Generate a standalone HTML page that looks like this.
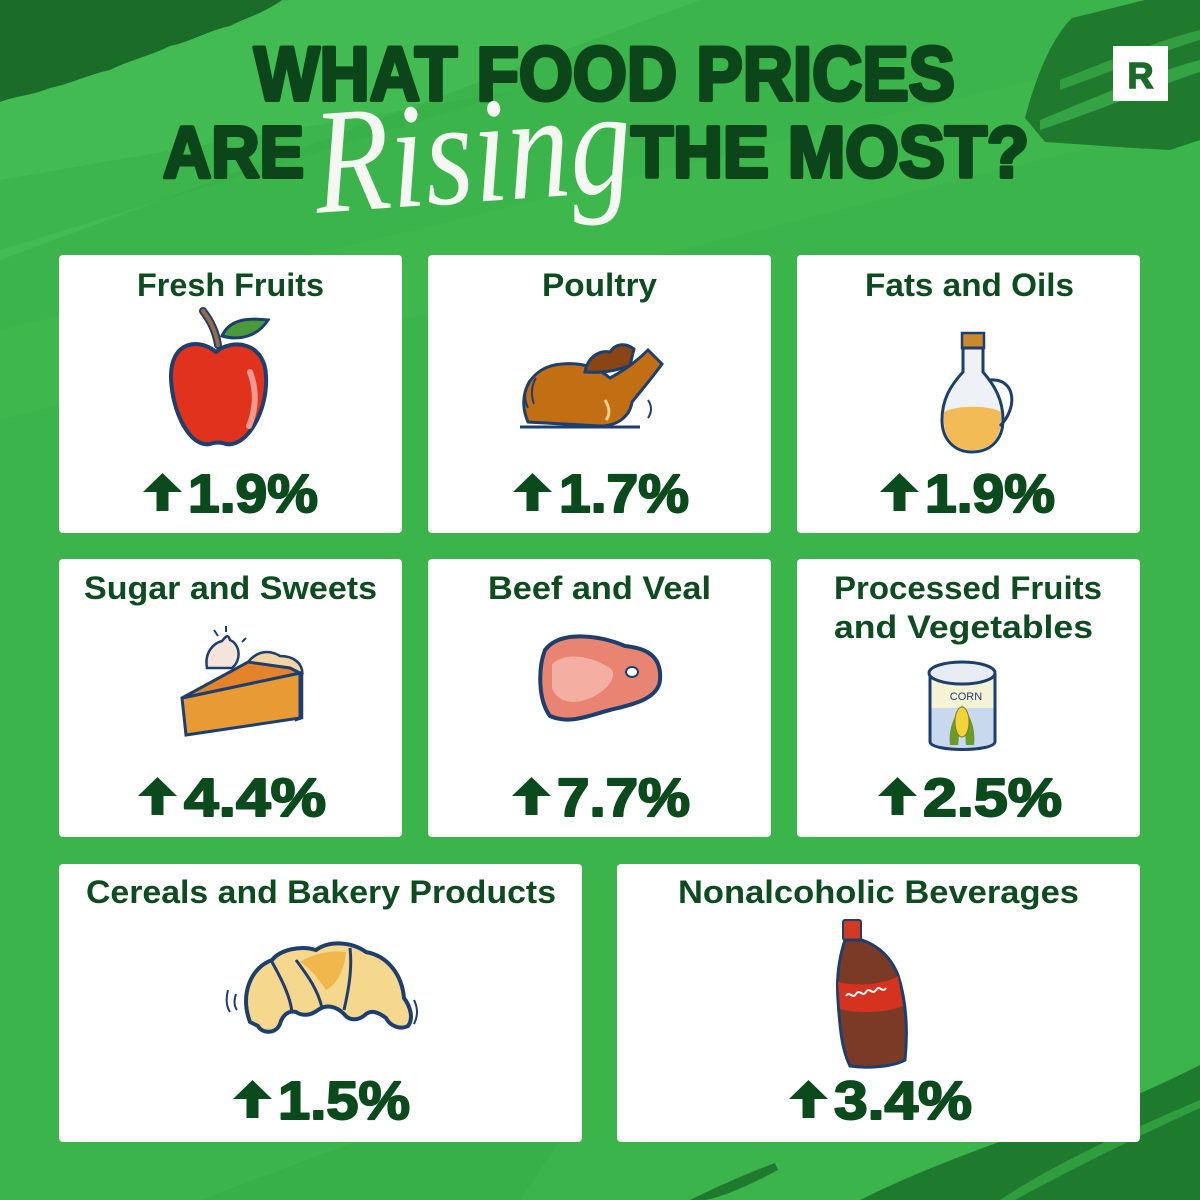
<!DOCTYPE html>
<html><head><meta charset="utf-8"><style>
html,body{margin:0;padding:0;width:1200px;height:1200px;overflow:hidden;background:#3bb54b;}
svg{display:block}
</style></head><body>
<svg width="1200" height="1200" viewBox="0 0 1200 1200" xmlns="http://www.w3.org/2000/svg">
<!-- background -->
<rect width="1200" height="1200" fill="#3bb54b"/>
<polygon points="0,100 290,0 700,0 0,260" fill="#47bd57" opacity="0.7"/>
<polygon points="0,330 1200,40 1200,120 0,420" fill="#44bc54" opacity="0.35"/>
<polygon points="0,180 520,90 0,250" fill="#33ad44" opacity="0.4"/>
<polygon points="200,1200 360,1140 560,1140 520,1200" fill="#33ad44" opacity="0.5"/>
<!-- dark brush strokes -->
<path d="M0,0 L282,0 C262,14 250,16 230,26 C210,30 190,42 170,46 C150,56 130,60 110,70 C90,74 70,84 50,88 C30,96 15,96 0,102 Z" fill="#1b6c29"/>
<path d="M1072,18 L1145,0 L1200,0 L1200,140 L1170,150 C1130,148 1090,145 1045,142 L1025,118 C1035,80 1050,40 1072,18 Z" fill="#1f7a2e"/>
<path d="M1040,120 C1100,95 1160,70 1200,60 L1200,72 C1160,85 1100,110 1040,130 Z" fill="#3aae48" opacity="0.8"/>
<path d="M1060,80 C1110,60 1160,40 1200,30 L1200,40 C1160,52 1110,72 1060,90 Z" fill="#3aae48" opacity="0.7"/>
<path d="M860,1200 C920,1170 1000,1140 1080,1115 C1130,1100 1170,1080 1200,1065 L1200,1200 Z" fill="#1e7a2d"/>
<path d="M690,1200 C710,1190 750,1172 775,1163 L778,1170 C750,1185 720,1198 705,1200 Z" fill="#1e7a2d"/>
<path d="M1000,1200 C1060,1160 1130,1130 1200,1100 L1200,1108 C1130,1140 1070,1170 1015,1200 Z" fill="#35a744" opacity="0.8"/>

<!-- title -->
<g font-family="Liberation Sans, sans-serif" font-weight="bold" fill="#0b4519" stroke="#0b4519" stroke-width="4" stroke-linejoin="round">
<text x="254" y="100" font-size="76" textLength="701" lengthAdjust="spacingAndGlyphs">WHAT FOOD PRICES</text>
<text x="163" y="177" font-size="72" textLength="141" lengthAdjust="spacingAndGlyphs">ARE</text>
<text x="631" y="177" font-size="72" textLength="398" lengthAdjust="spacingAndGlyphs">THE MOST?</text>
</g>
<text x="314" y="202" font-family="Liberation Serif, serif" font-style="italic" font-size="150" fill="#f4f7f2" textLength="318" lengthAdjust="spacingAndGlyphs" transform="rotate(-4 470 160)">Rising</text>

<!-- R logo -->
<rect x="1113" y="46" width="55" height="55" fill="#ffffff"/>
<text x="1140.5" y="88" text-anchor="middle" font-family="Liberation Sans, sans-serif" font-weight="bold" font-size="36" fill="#1c6b2a" stroke="#1c6b2a" stroke-width="1.5">R</text>

<!-- cards -->
<g fill="#ffffff">
<rect x="59" y="255" width="343" height="278" rx="4"/>
<rect x="428" y="255" width="343" height="278" rx="4"/>
<rect x="797" y="255" width="343" height="278" rx="4"/>
<rect x="59" y="559" width="343" height="278" rx="4"/>
<rect x="428" y="559" width="343" height="278" rx="4"/>
<rect x="797" y="559" width="343" height="278" rx="4"/>
<rect x="59" y="864" width="523" height="278" rx="4"/>
<rect x="617" y="864" width="523" height="278" rx="4"/>
</g>

<!-- card titles -->
<g font-family="Liberation Sans, sans-serif" font-weight="bold" font-size="32" fill="#0e4b20">
<text x="137" y="296" textLength="187" lengthAdjust="spacingAndGlyphs">Fresh Fruits</text>
<text x="542" y="296" textLength="115" lengthAdjust="spacingAndGlyphs">Poultry</text>
<text x="865" y="296" textLength="209" lengthAdjust="spacingAndGlyphs">Fats and Oils</text>
<text x="84" y="599" textLength="293" lengthAdjust="spacingAndGlyphs">Sugar and Sweets</text>
<text x="488" y="599" textLength="223" lengthAdjust="spacingAndGlyphs">Beef and Veal</text>
<text x="834" y="599" textLength="268" lengthAdjust="spacingAndGlyphs">Processed Fruits</text>
<text x="834" y="638" textLength="259" lengthAdjust="spacingAndGlyphs">and Vegetables</text>
<text x="86" y="903" textLength="470" lengthAdjust="spacingAndGlyphs">Cereals and Bakery Products</text>
<text x="678" y="903" textLength="401" lengthAdjust="spacingAndGlyphs">Nonalcoholic Beverages</text>
</g>

<!-- percentages -->
<g font-family="Liberation Sans, sans-serif" font-weight="bold" font-size="54" fill="#0b4a1c" stroke="#0b4a1c" stroke-width="2" stroke-linejoin="round">
<text x="188" y="512" textLength="130" lengthAdjust="spacingAndGlyphs">1.9%</text>
<text x="559" y="512" textLength="130" lengthAdjust="spacingAndGlyphs">1.7%</text>
<text x="925" y="512" textLength="130" lengthAdjust="spacingAndGlyphs">1.9%</text>
<text x="184" y="816" textLength="142" lengthAdjust="spacingAndGlyphs">4.4%</text>
<text x="557" y="816" textLength="133" lengthAdjust="spacingAndGlyphs">7.7%</text>
<text x="923" y="816" textLength="139" lengthAdjust="spacingAndGlyphs">2.5%</text>
<text x="278" y="1119" textLength="132" lengthAdjust="spacingAndGlyphs">1.5%</text>
<text x="834" y="1119" textLength="138" lengthAdjust="spacingAndGlyphs">3.4%</text>
</g>
<!-- arrows -->
<g fill="#0b4a1c">
<path d="M143,492 L162.5,473 L182,492 L168.5,492 L168.5,511 L156.5,511 L156.5,492 Z"/>
<path d="M513,492 L532.5,473 L552,492 L538.5,492 L538.5,511 L526.5,511 L526.5,492 Z"/>
<path d="M880,492 L899.5,473 L919,492 L905.5,492 L905.5,511 L893.5,511 L893.5,492 Z"/>
<path d="M138,796 L157.5,777 L177,796 L163.5,796 L163.5,815 L151.5,815 L151.5,796 Z"/>
<path d="M512,796 L531.5,777 L551,796 L537.5,796 L537.5,815 L525.5,815 L525.5,796 Z"/>
<path d="M878,796 L897.5,777 L917,796 L903.5,796 L903.5,815 L891.5,815 L891.5,796 Z"/>
<path d="M233,1099 L252.5,1080 L272,1099 L258.5,1099 L258.5,1118 L246.5,1118 L246.5,1099 Z"/>
<path d="M789,1099 L808.5,1080 L828,1099 L814.5,1099 L814.5,1118 L802.5,1118 L802.5,1099 Z"/>
</g>

<!-- Apple -->
<path d="M218,345 C216,332 210,320 203,311" stroke="#1d3f6e" stroke-width="8" fill="none" stroke-linecap="round"/>
<path d="M218,345 C216,332 210,320 203,311" stroke="#9b6a44" stroke-width="4" fill="none" stroke-linecap="round"/>
<path d="M222,336 C230,318 250,318 268,320 C258,336 240,341 222,336 Z" fill="#4a9a3a" stroke="#1d3f6e" stroke-width="3"/>
<path d="M216,352 C200,338 170,340 171,378 C172,412 190,448 210,444 C216,442 220,442 226,444 C246,448 268,412 266,376 C265,342 232,338 216,352 Z" fill="#e0321c" stroke="#1d3f6e" stroke-width="4"/>
<path d="M250,372 C257,390 256,410 249,426" stroke="#f29a8e" stroke-width="6" fill="none" stroke-linecap="round"/>

<!-- Poultry -->
<path d="M528,422 C516,395 530,366 562,364 C582,362 598,368 610,378 C625,370 638,360 648,350 L662,364 C652,378 640,392 632,402 C630,416 618,426 600,426 Z" fill="#c26e12" stroke="#1d3f6e" stroke-width="3"/>
<path d="M585,372 C588,356 600,350 610,352 C615,344 625,342 634,349 L630,365 C615,372 600,373 585,372 Z" fill="#8a4512" stroke="#1d3f6e" stroke-width="3"/>
<path d="M520,427 L640,427" stroke="#1d3f6e" stroke-width="3"/>
<path d="M530,380 C524,388 524,400 528,408 M536,378 C531,386 531,396 534,404" stroke="#1d3f6e" stroke-width="2" fill="none"/>
<path d="M648,400 C652,406 652,412 648,418" stroke="#1d3f6e" stroke-width="2" fill="none"/>
<path d="M605,400 C610,408 610,415 606,420" stroke="#f3d08a" stroke-width="3" fill="none"/>

<!-- Oil bottle -->
<rect x="962" y="333" width="22" height="15" fill="#c98a2e" stroke="#1d3f6e" stroke-width="2.5"/>
<path d="M963,348 L963,372 C950,386 942,400 942,420 C942,440 955,452 972,452 C990,452 1003,440 1003,420 C1003,400 995,386 983,372 L983,348 Z" fill="#eef1f5" stroke="#1d3f6e" stroke-width="3"/>
<path d="M944,412 C956,405 990,405 1001,412 C1003,440 990,450 972,450 C955,450 942,440 944,412 Z" fill="#f2bb55"/>
<path d="M990,380 C1016,378 1018,408 1000,426" stroke="#1d3f6e" stroke-width="3" fill="none"/>

<!-- Pie -->
<path d="M248,662 C258,650 270,650 280,656 C294,656 304,664 302,676 L302,718 L296,720 L290,668 Z" fill="#f3d5a3" stroke="#1d3f6e" stroke-width="2.5"/>
<path d="M182,698 L300,673 L300,718 L186,735 Z" fill="#e89a35" stroke="#1d3f6e" stroke-width="3"/>
<path d="M182,698 L248,662 L290,668 L300,673 Z" fill="#e5832a" stroke="#1d3f6e" stroke-width="3"/>
<path d="M207,668 C204,652 214,643 222,641 C226,636 228,634 230,640 C240,644 242,660 232,668 Z" fill="#f4e4dc" stroke="#1d3f6e" stroke-width="2.5"/>
<path d="M218,636 L214,630 M226,632 L226,626 M242,642 L246,638" stroke="#1d3f6e" stroke-width="2"/>

<!-- Steak -->
<path d="M545,650 C560,630 600,635 625,646 C645,648 662,655 660,680 C658,700 630,705 610,710 C590,715 570,725 550,716 C538,700 538,668 545,650 Z" fill="#e98372" stroke="#1d3f6e" stroke-width="4"/>
<path d="M552,664 C565,652 590,655 610,668 C620,676 605,694 585,700 C570,705 556,700 552,688 Z" fill="#f4aea2"/>
<ellipse cx="632" cy="672" rx="6" ry="5" fill="#ffffff" stroke="#1d3f6e" stroke-width="2"/>

<!-- Can -->
<path d="M930,675 L930,742 C932,752 993,752 995,742 L995,675 Z" fill="#c7d8ef" stroke="#1d3f6e" stroke-width="3"/>
<rect x="931.5" y="680" width="62" height="28" fill="#f5f3d6"/>
<ellipse cx="962" cy="673" rx="33" ry="11" fill="#e8edf3" stroke="#1d3f6e" stroke-width="3"/>
<text x="966" y="700" text-anchor="middle" font-family="Liberation Sans, sans-serif" font-size="11" fill="#1d3f6e">CORN</text>
<path d="M950,745 C948,728 955,715 962,705 C958,720 960,735 958,745 Z M974,745 C976,728 970,715 962,705 C966,720 965,735 966,745 Z" fill="#6a9a2a"/>
<ellipse cx="962" cy="722" rx="7" ry="15" fill="#f1d33a" stroke="#8a7a1a" stroke-width="1"/>

<!-- Croissant (arch) -->
<path d="M250,1022 C240,995 250,968 272,960 C280,950 300,945 316,950 C330,940 352,942 366,952 C388,956 402,975 404,998 C410,1006 414,1018 408,1026 C400,1030 390,1026 386,1018 C378,1012 372,1010 366,1014 C360,1020 350,1022 344,1014 C336,1006 326,1004 318,1010 C310,1016 302,1016 296,1012 C288,1010 282,1016 280,1024 C276,1034 262,1034 258,1026 Z" fill="#f6d78e" stroke="#1d3f6e" stroke-width="4"/>
<path d="M296,960 C308,976 318,990 322,1008 M350,948 C352,966 350,984 344,1010 M272,962 C282,980 290,996 292,1012" stroke="#1d3f6e" stroke-width="3" fill="none"/>
<path d="M300,962 C312,954 330,950 346,952 C344,972 336,985 326,990 C318,978 310,968 300,962 Z" fill="#f1b64c"/>
<path d="M228,990 C226,998 226,1006 230,1012 M236,994 C234,1000 234,1006 237,1010 M414,1000 C418,1008 418,1016 414,1024" stroke="#1d3f6e" stroke-width="2" fill="none"/>

<!-- Bottle -->
<rect x="843" y="920" width="18" height="20" rx="2" fill="#d33a22" stroke="#1d3f6e" stroke-width="2"/>
<path d="M845,940 C840,955 836,975 838,1000 C840,1030 842,1050 850,1066 C870,1069 895,1066 905,1060 C908,1030 906,1000 898,975 C890,955 876,945 862,940 Z" fill="#7b3a26" stroke="#1d3f6e" stroke-width="3"/>
<path d="M838,982 C860,987 885,984 898,976 L903,1006 C885,1013 860,1014 840,1009 Z" fill="#d63220"/>
<path d="M846,996 C850,990 852,1000 856,994 C860,988 862,998 866,992 C870,986 872,996 876,990 C880,984 882,994 886,988" stroke="#ffffff" stroke-width="2" fill="none"/>
</svg>
</body></html>
